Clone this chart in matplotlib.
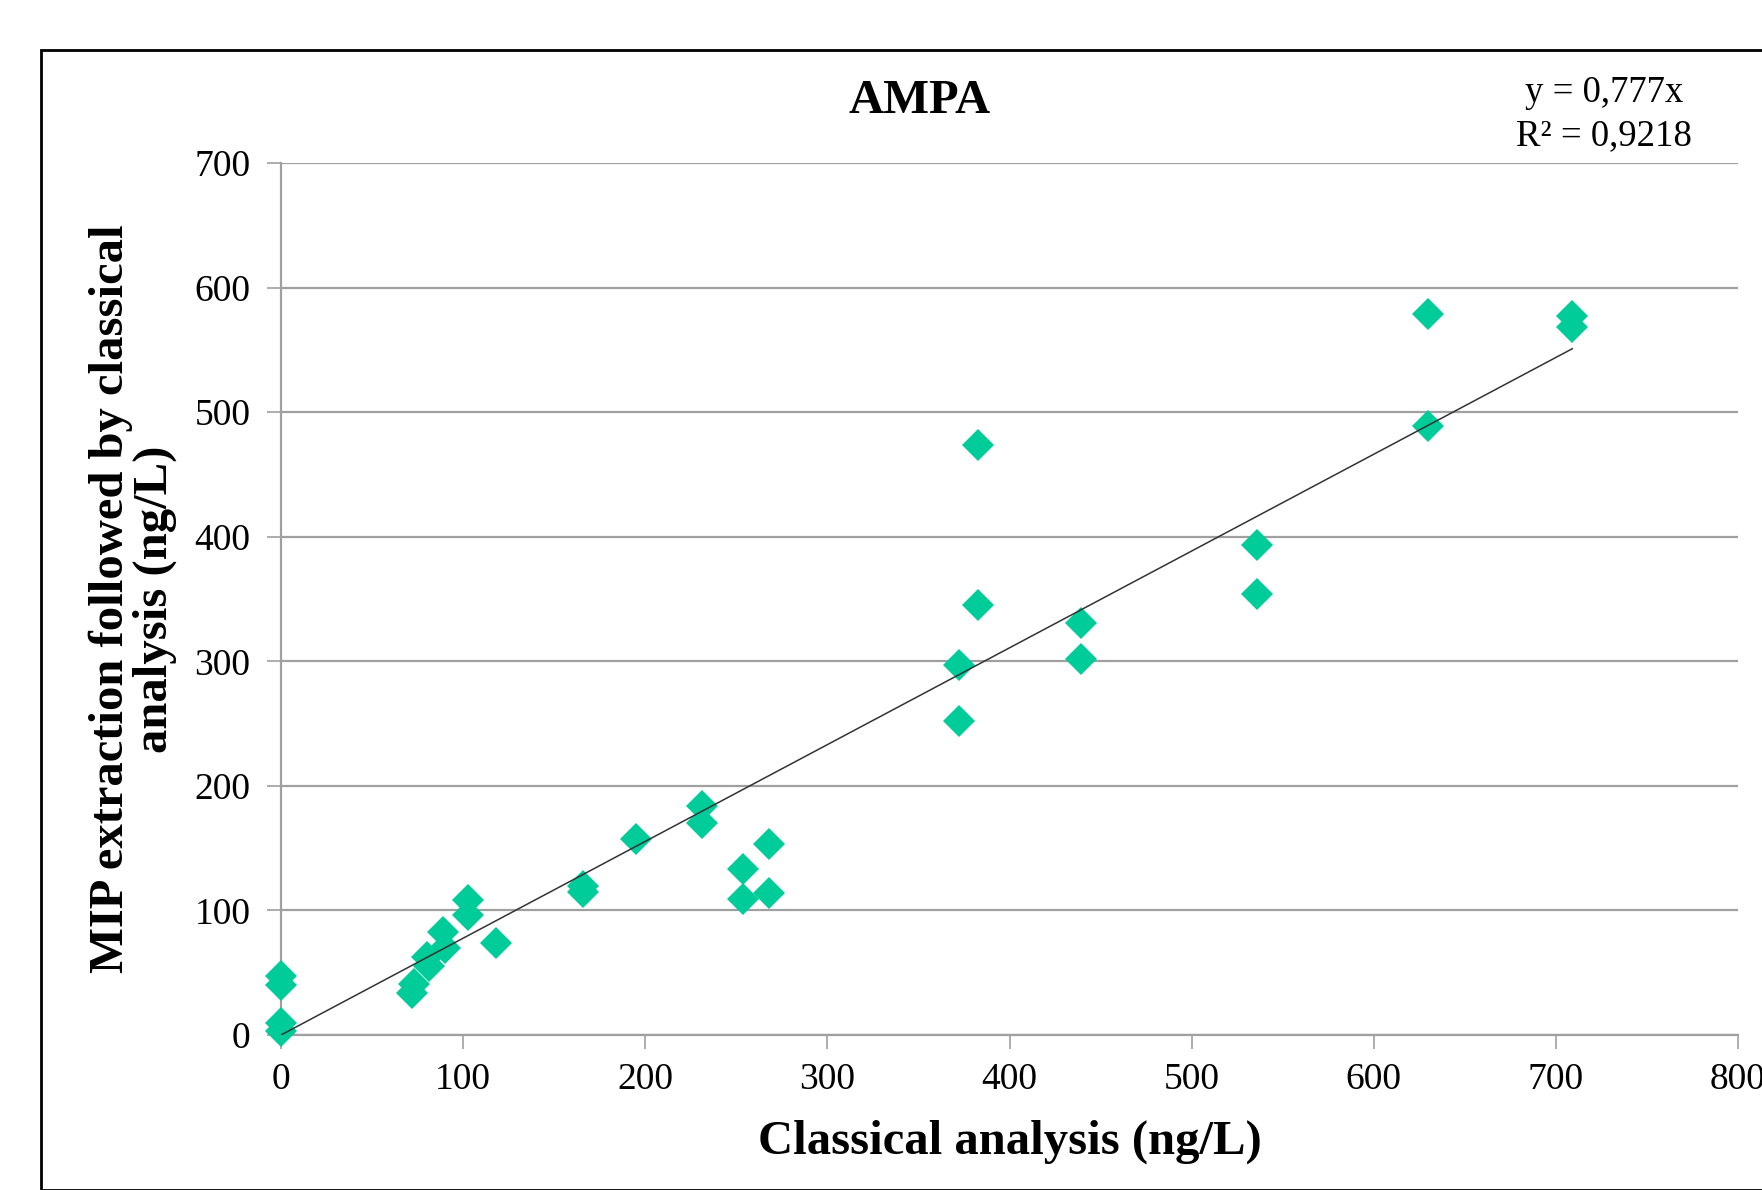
import matplotlib
matplotlib.use("Agg")
import matplotlib.pyplot as plt
from matplotlib.patches import Rectangle

plt.rcParams['font.family'] = ['Liberation Serif', 'DejaVu Serif']

# Data
classical = [0, 0, 0, 0, 72, 73, 80, 81, 89, 90, 102.5, 102.5, 118,
             166, 166, 195, 231, 231, 253.5, 253.5, 268, 268,
             372.5, 372.5, 382.5, 382.5, 439.5, 439.5, 536, 536,
             630, 630, 709, 709]
mip = [47, 40, 10, 3, 34, 41, 63, 55, 83, 70, 108.5, 96.5, 74,
       115, 120, 157, 184, 170, 133, 109, 153, 114,
       297, 252, 474, 345, 331, 302, 393, 354,
       579, 489, 577, 568]
slope = 0.777
r2_text = "R² = 0,9218"
eq_text = "y = 0,777x"
x_ticks = [0, 100, 200, 300, 400, 500, 600, 700, 800]
y_ticks = [0, 100, 200, 300, 400, 500, 600, 700]

W, H = 1762, 1190
fig = plt.figure(figsize=(W / 100, H / 100), dpi=100)

# outer chart frame
fig.patches.append(Rectangle((41 / W, 0), 1.2, (H - 50) / H,
                             transform=fig.transFigure, fill=False,
                             edgecolor='black', linewidth=2.0))

ax = fig.add_axes([281 / W, (H - 1035) / H, (1738 - 281) / W, (1035 - 163) / H])
ax.set_xlim(0, 800)
ax.set_ylim(0, 700)
ax.set_xticks(x_ticks)
ax.set_yticks(y_ticks)
ax.grid(axis='y', color='#a0a0a0', linewidth=1.6)
ax.set_axisbelow(True)
for s in ['top', 'right']:
    ax.spines[s].set_visible(False)
for s in ['left', 'bottom']:
    ax.spines[s].set_color('#a0a0a0')
    ax.spines[s].set_linewidth(1.6)
ax.tick_params(axis='both', colors='#a0a0a0', length=10, width=1.2,
               labelcolor='black', labelsize=27)
ax.tick_params(axis='x', pad=10)
ax.tick_params(axis='y', pad=12)

ax.plot(classical, mip, linestyle='none', marker='D', markersize=16.5,
        color='#00cc99', markeredgewidth=0, zorder=3, clip_on=False)

xmax = max(classical)
ax.plot([0, xmax], [0, slope * xmax], color='#333333', linewidth=1.1, zorder=4)

ax.set_xlabel("Classical analysis (ng/L)", fontsize=35, fontweight='bold', labelpad=16)
ax.set_ylabel("MIP extraction followed by classical\nanalysis (ng/L)", fontsize=35,
              fontweight='bold', linespacing=1.0)
ax.yaxis.set_label_coords((177 - 281) / (1738 - 281), 0.5)

fig.text(920 / W, 1 - 101 / H, "AMPA", fontsize=35, fontweight='bold',
         ha='center', va='center')
fig.text(1604 / W, 1 - 93 / H, eq_text, fontsize=26.5, ha='center', va='center')
fig.text(1604 / W, 1 - 136 / H, r2_text, fontsize=26.5, ha='center', va='center')

fig.savefig("out.png", dpi=100, facecolor='white')
